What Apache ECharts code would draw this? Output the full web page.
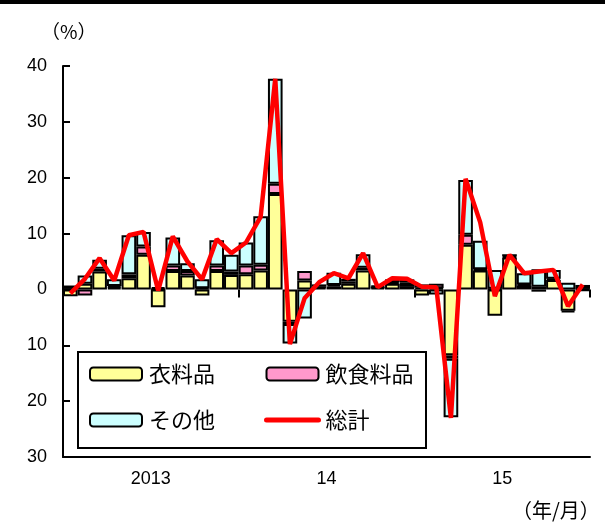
<!DOCTYPE html>
<html>
<head>
<meta charset="utf-8">
<script src="https://cdn.jsdelivr.net/npm/echarts@6/dist/echarts.min.js"></script>
<style>
  html, body { margin: 0; padding: 0; background: #fff; }
  #chart { width: 605px; height: 529px; }
</style>
</head>
<body>
<div id="chart"></div>
<script>
// 2013/1 - 2015/12
const months = []
for (let y = 2013; y <= 2015; y++) {
  for (let m = 1; m <= 12; m++) months.push(y + '/' + m)
}
const yearLabels = ['2013', '14', '15']

// 衣料品
const clothing = [
  -1.2, 1.0, 3.2, 0.3, 2.0, 6.2, -3.2, 3.3, 2.5, -1.1, 3.3, 2.6,
  2.7, 3.4, 17.1, -5.8, 1.6, 0.3, 0.5, 1.0, 3.4, 0.3, 1.0, 0.6,
  -1.1, 0.2, -11.8, 8.0, 3.4, -4.7, 5.7, 0.7, -0.4, 1.7, -3.8, -0.3
]
// 飲食料品
const food = [
  0.1, -1.1, 0.5, 0.3, 0.7, 1.5, 0.1, 1.0, 0.8, 0.2, 1.0, 0.6,
  1.6, 1.0, 1.8, -0.4, 1.7, 0.2, 0.3, 0.4, 0.5, 0.1, 0.3, 0.6,
  0.3, 0.8, -0.6, 1.8, 0.2, 0.1, 0.2, 0.2, 0.5, 0.2, -0.3, 0.1
]
// その他
const others = [
  0.6, 1.5, 1.6, 1.2, 7.0, 2.6, 0.3, 5.0, 1.4, 1.6, 4.5, 3.0,
  4.1, 8.7, 18.8, -3.5, -5.2, 0.4, 2.2, 0.5, 2.4, 0.3, 0.5, 0.6,
  0.6, -0.9, -10.5, 9.8, 5.1, 3.4, 0.4, 2.0, 3.1, 1.6, 1.2, 0.7
]
// 総計
const total = [
  -0.7, 1.9, 5.6, 1.6, 9.7, 10.3, -0.2, 9.5, 5.0, 1.8, 9.0, 6.5,
  8.4, 13.0, 37.7, -9.8, -1.6, 1.3, 2.9, 2.0, 6.5, 0.4, 2.0, 1.9,
  0.5, 0.4, -23.0, 19.8, 12.0, -1.2, 6.2, 2.9, 3.2, 3.5, -3.0, 0.9
]

const FONT = '"Liberation Sans", Arial, sans-serif'
const JP = '"Noto Sans CJK JP", sans-serif'

const chart = echarts.init(document.getElementById('chart'))

const barStyle = (color) => ({
  color: color,
  borderColor: '#000',
  borderWidth: 2
})

const legendBase = {
  orient: 'vertical',
  top: 358,
  itemWidth: 52, itemHeight: 13, itemGap: 24,
  textStyle: { fontFamily: JP, fontSize: 22, color: '#000', padding: [0, 0, 0, 2] }
}

chart.setOption({
  animation: false,
  backgroundColor: '#fff',
  title: [
    { text: '（%）', left: 36, top: 17, textStyle: { fontFamily: JP, fontSize: 19, fontWeight: 'normal', color: '#000' } },
    { text: '（年/月）', left: 507, top: 495, textStyle: { fontFamily: JP, fontSize: 20, fontWeight: 'normal', color: '#000' } }
  ],
  grid: { left: 63, right: 15, top: 66, bottom: 72 },
  legend: [
    Object.assign({}, legendBase, { left: 84, data: ['衣料品', 'その他'] }),
    Object.assign({}, legendBase, {
      left: 259,
      data: ['飲食料品', { name: '総計', itemStyle: { opacity: 0 }, lineStyle: { width: 5, color: '#FF0000', cap: 'round' } }]
    })
  ],
  graphic: [
    { type: 'rect', shape: { x: 0, y: 0, width: 605, height: 4 }, style: { fill: '#000' } },
    { type: 'rect', z: -1, shape: { x: 78, y: 352, width: 348, height: 96 }, style: { fill: '#fff', stroke: '#000', lineWidth: 2 } }
  ],
  xAxis: [
    {
      type: 'category',
      data: months,
      axisLine: { onZero: false, lineStyle: { color: '#000', width: 2 } },
      axisTick: { show: false },
      axisLabel: { show: false }
    },
    {
      type: 'category',
      data: yearLabels,
      position: 'bottom',
      axisLine: { show: false },
      axisTick: { show: true, length: 8, lineStyle: { color: '#000', width: 2 } },
      axisLabel: { fontFamily: FONT, fontSize: 18, color: '#000', margin: 13 }
    }
  ],
  yAxis: {
    type: 'value',
    min: -30,
    max: 40,
    interval: 10,
    axisLine: { show: true, lineStyle: { color: '#000', width: 2 } },
    axisTick: { show: true, inside: true, length: 7, lineStyle: { color: '#000', width: 2 } },
    splitLine: { show: false },
    axisLabel: {
      fontFamily: FONT, fontSize: 18, color: '#000', margin: 16,
      formatter: (v) => String(Math.abs(v))
    }
  },
  series: [
    { name: '衣料品', type: 'bar', stack: 'a', data: clothing, barCategoryGap: '0%', itemStyle: barStyle('#FFFF99') },
    { name: '飲食料品', type: 'bar', stack: 'a', data: food, itemStyle: barStyle('#FF99CC') },
    { name: 'その他', type: 'bar', stack: 'a', data: others, itemStyle: barStyle('#CCFFFF') },
    {
      name: '総計', type: 'line', data: total,
      symbol: 'none',
      lineStyle: { color: '#FF0000', width: 4.5 },
      itemStyle: { color: '#FF0000' },
      z: 5
    }
  ]
})
</script>
</body>
</html>
